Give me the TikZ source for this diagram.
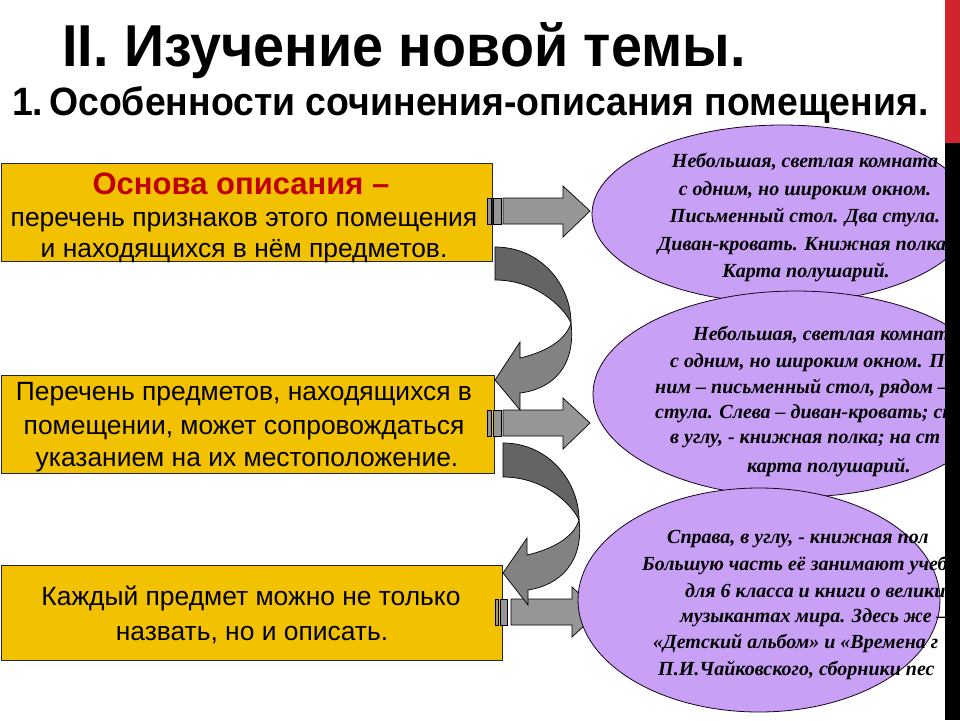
\documentclass[tikz,border=0pt]{standalone}
\usepackage{fontspec}
\usepackage{graphicx}
\setmainfont{Liberation Sans}
\newfontfamily\ellfont{Liberation Serif}
\usetikzlibrary{shapes.geometric}
\definecolor{boxyellow}{RGB}{242,194,0}
\definecolor{headred}{RGB}{192,0,0}
\definecolor{ellfill}{RGB}{200,160,246}
\definecolor{sgray}{RGB}{150,150,150}
\definecolor{cdarkgray}{RGB}{100,100,100}
\definecolor{clightgray}{RGB}{130,130,130}
\definecolor{stripred}{RGB}{208,36,46}
\tikzset{
  ybox/.style={draw=black!85, line width=0.8pt, fill=boxyellow, inner sep=0pt, anchor=north west},
  btext/.style={inner sep=0pt, anchor=base, font=\fontsize{26.4}{31}\selectfont},
  sarrow/.style={fill=sgray, draw=black, line width=0.7pt, line join=miter},
  cdark/.style={fill=cdarkgray, draw=black, line width=0.7pt},
  clight/.style={fill=clightgray, draw=black, line width=0.7pt},
  ell/.style={ellipse, draw=black!80!violet, line width=0.8pt, fill=ellfill, inner sep=0pt},
  etext/.style={inner sep=0pt, anchor=base west, font=\ellfont\bfseries\itshape\fontsize{20}{26}\selectfont},
  ctext/.style={etext, anchor=base}
}
\begin{document}
\begin{tikzpicture}[x=1pt,y=-1pt]
\useasboundingbox[fill=white] (0,0) rectangle (960,720);
% titles
\node[anchor=base west, inner sep=0pt] (title) at (62,66) {\resizebox{683pt}{44pt}{\bfseries II. Изучение новой темы.}};
\node[anchor=base west, inner sep=0pt] (subtitle) at (12,115) {\resizebox{916pt}{29pt}{\bfseries 1.\kern-0.12em\ Особенности сочинения-описания помещения.}};
% boxes
\node[ybox, minimum width=491pt, minimum height=98pt] (b1) at (1,163) {};
\node[ybox, minimum width=493pt, minimum height=98pt] (b2) at (1,375) {};
\node[ybox, minimum width=501pt, minimum height=95pt] (b3) at (1,565) {};
\node[btext, text=headred, font=\bfseries\fontsize{31}{34}\selectfont] (b1a) at (241,194) {Основа описания –};
\node[btext] (b1b) at (244,226) {перечень признаков этого помещения};
\node[btext] (b1c) at (244,257) {и находящихся в нём предметов.};
\node[btext] (b2a) at (244,400) {Перечень предметов, находящихся в};
\node[btext] (b2b) at (244,434) {помещении, может сопровождаться};
\node[btext] (b2c) at (247,466) {указанием на их местоположение.};
\node[btext] (b3a) at (251,605) {Каждый предмет можно не только};
\node[btext] (b3b) at (252,640) {назвать, но и описать.};
% straight arrows
\draw[sarrow] (487,198) rectangle (491,224);
\draw[sarrow] (493,198) rectangle (501,224);
\draw[sarrow] (503,198) -- (563,198) -- (563,186) -- (590,211) -- (563,237) -- (563,224) -- (503,224) -- cycle;
\draw[sarrow] (487,410) rectangle (491,436);
\draw[sarrow] (493,410) rectangle (501,436);
\draw[sarrow] (503,410) -- (563,410) -- (563,398) -- (590,423) -- (563,449) -- (563,436) -- (503,436) -- cycle;
\draw[sarrow] (495,599) rectangle (498,625);
\draw[sarrow] (500,599) rectangle (507,625);
\draw[sarrow] (511,599) -- (572,599) -- (572,587) -- (599,612) -- (572,637) -- (572,625) -- (511,625) -- cycle;
% curved arrows
\draw[cdark] (495,247) .. controls (541,247) and (571,285) .. (571,323)
  .. controls (563,306) and (535,280) .. (495,280) -- cycle;
\draw[clight] (571,323) .. controls (576,366) and (553,389) .. (520,393)
  -- (520,410) -- (495,380) -- (520,342) -- (520,358)
  .. controls (546,352) and (566,340) .. (571,323) -- cycle;
\draw[cdark] (503,443) .. controls (549,443) and (579,482) .. (579,520)
  .. controls (571,503) and (543,477) .. (503,477) -- cycle;
\draw[clight] (579,520) .. controls (584,561) and (561,585) .. (528,590)
  -- (528,605) -- (503,573) -- (527,538) -- (527,555)
  .. controls (553,549) and (574,537) .. (579,520) -- cycle;
% ellipses
\begin{scope}
\clip (0,0) rectangle (945,720);
\node[ell, minimum width=380pt, minimum height=178pt] (e1) at (782,214) {};
\node[ctext] (e1a) at (805,167) {Небольшая, светлая комната};
\node[ctext] (e1b) at (805,195) {с одним, но широким окном.};
\node[ctext] (e1c) at (805,222) {Письменный стол. Два стула.};
\node[ctext] (e1d) at (802,250) {Диван-кровать. Книжная полка};
\node[ctext] (e1e) at (806,277) {Карта полушарий.};
\node[ell, minimum width=406pt, minimum height=206pt] (e2) at (796,394) {};
\node[etext] (e2a) at (693,340) {Небольшая, светлая комнат};
\node[etext] (e2b) at (670,367) {с одним, но широким окном. П};
\node[etext] (e2c) at (655,393) {ним – письменный стол, рядом –};
\node[etext] (e2d) at (655,418) {стула. Слева – диван-кровать; сп};
\node[etext] (e2e) at (670,443) {в углу, - книжная полка; на ст};
\node[etext] (e2f) at (747,472) {карта полушарий.};
\node[ell, minimum width=362pt, minimum height=224pt] (e3) at (759,600) {};
\node[etext] (e3a) at (667,543) {Справа, в углу, - книжная пол};
\node[etext] (e3b) at (642,570) {Большую часть её занимают учеб};
\node[etext] (e3c) at (685,597) {для 6 класса и книги о великих};
\node[etext] (e3d) at (680,622) {музыкантах мира. Здесь же –};
\node[etext] (e3e) at (653,648) {«Детский альбом» и «Времена г};
\node[etext] (e3f) at (658,675) {П.И.Чайковского, сборники пес};
\end{scope}
% right strip
\fill[stripred] (945,0) rectangle (960,143);
\fill[black] (945,143) rectangle (960,720);
\end{tikzpicture}
\end{document}
